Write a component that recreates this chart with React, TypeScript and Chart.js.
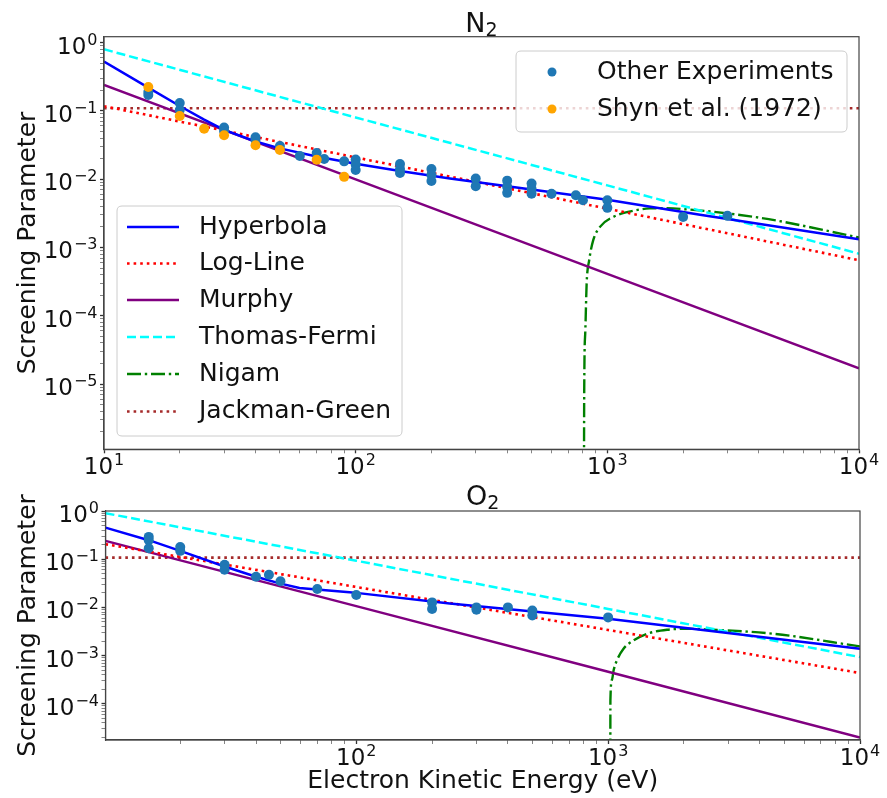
import React, { useEffect, useRef } from "react";
import { Chart, registerables } from "chart.js";
Chart.register(...registerables);

const FONT = "'DejaVu Sans', sans-serif";

// ---------------- N2 data ----------------
const n2OtherE = [15, 15, 20, 20, 30, 30, 40, 40, 50, 60, 70, 75, 90, 100, 100, 100, 150, 150, 150, 200, 200, 200, 300, 300, 400, 400, 400, 500, 500, 500, 600, 750, 800, 1000, 1000, 2000, 3000];
const n2OtherS = [0.188, 0.17, 0.13, 0.103, 0.057, 0.0506, 0.041, 0.0373, 0.0305, 0.0219, 0.0241, 0.0197, 0.0182, 0.0194, 0.0164, 0.0136, 0.0166, 0.0141, 0.0123, 0.0141, 0.0115, 0.0094, 0.0102, 0.0079, 0.0095, 0.0077, 0.0063, 0.0086, 0.0072, 0.0061, 0.0061, 0.0058, 0.0049, 0.0049, 0.0038, 0.0028, 0.0029];
const n2ShynE = [15, 20, 25, 30, 40, 50, 70, 90];
const n2ShynS = [0.223, 0.084, 0.0545, 0.0438, 0.0313, 0.0267, 0.0192, 0.0108];

const n2LineE = [10, 100, 1000, 10000];
const n2ThomasFermi = [0.795, 0.08, 0.0081, 0.00081];
const n2Murphy = [0.239, 0.0099, 0.00041, 0.000017];
const n2LogLine = [0.117, 0.0208, 0.0037, 0.00065];
const n2JackmanGreen = [0.109, 0.109, 0.109, 0.109];
const n2HypE = [10, 15, 20, 25, 30, 40, 50, 70, 100, 150, 237, 1000, 2335, 10000];
const n2HypS = [0.524, 0.219, 0.1175, 0.0741, 0.0525, 0.0355, 0.0282, 0.0214, 0.0168, 0.0132, 0.0102, 0.005, 0.003, 0.00132];
const n2NigamE = [806, 809, 817, 827.6, 847, 879, 935, 1056, 1268, 1476, 1650, 1824, 4036, 10000];
const n2NigamS = [1e-9, 5.8e-6, 5.6e-5, 3.0e-4, 6.5e-4, 1.28e-3, 2.0e-3, 2.8e-3, 3.44e-3, 3.73e-3, 3.76e-3, 3.73e-3, 2.72e-3, 1.4e-3];

// ---------------- O2 data ----------------
const o2OtherE = [15, 15, 15, 20, 20, 30, 30, 40, 45, 50, 70, 100, 200, 200, 300, 300, 400, 500, 500, 1000];
const o2OtherS = [0.29, 0.248, 0.169, 0.178, 0.149, 0.0766, 0.0604, 0.0433, 0.0476, 0.0349, 0.0241, 0.0181, 0.0127, 0.0093, 0.01, 0.0089, 0.01, 0.0086, 0.0068, 0.0062];

const o2LineE = [10.1, 100, 1000, 10000];
const o2ThomasFermi = [0.9, 0.093, 0.0093, 0.00093];
const o2Murphy = [0.24, 0.0106, 0.00046, 0.00002];
const o2LogLine = [0.205, 0.0265, 0.0034, 0.000435];
const o2JackmanGreen = [0.108, 0.108, 0.108, 0.108];
const o2HypE = [10.1, 15, 20, 29.4, 40, 49.6, 59.5, 73.6, 94, 100, 235, 1000, 10000];
const o2HypS = [0.452, 0.248, 0.149, 0.0731, 0.0433, 0.0315, 0.0253, 0.023, 0.0205, 0.02, 0.012, 0.00578, 0.00139];
const o2NigamE = [1019, 1021, 1035, 1051, 1084, 1151, 1262, 1426, 1714, 2061, 2472, 4550, 10000];
const o2NigamS = [1e-9, 1.19e-4, 3.1e-4, 4.9e-4, 8.0e-4, 1.39e-3, 2.06e-3, 2.83e-3, 3.43e-3, 3.6e-3, 3.48e-3, 2.83e-3, 1.55e-3];

// ---------------- styles ----------------
const STYLES = {
  hyperbola: { label: "Hyperbola", color: "#0000ff", dash: [] as number[], width: 2.5 },
  logline: { label: "Log-Line", color: "#ff0000", dash: [2.6, 4.0], width: 2.6 },
  murphy: { label: "Murphy", color: "#800080", dash: [] as number[], width: 2.5 },
  tf: { label: "Thomas-Fermi", color: "#00ffff", dash: [9, 4], width: 2.5 },
  nigam: { label: "Nigam", color: "#008000", dash: [14, 3.8, 2.4, 3.8], width: 2.4 },
  jg: { label: "Jackman-Green", color: "#a52a2a", dash: [2.6, 4.0], width: 2.6 },
};
const OTHER_COLOR = "#1f77b4";
const SHYN_COLOR = "#ffa500";
const TEXT_COLOR = "#111";

function isMajor(v: number) {
  const lg = Math.log10(v);
  return Math.abs(lg - Math.round(lg)) < 1e-6;
}
function logTicks(min: number, max: number) {
  const out: { value: number }[] = [];
  for (let e = -8; e <= 5; e++) {
    for (let m = 1; m <= 9; m++) {
      const v = m * Math.pow(10, e);
      if (v >= min * 0.9999 && v <= max * 1.0001) out.push({ value: v });
    }
  }
  return out;
}
function pts(xs: number[], ys: number[]) {
  return xs.map((x, i) => ({ x, y: ys[i] }));
}
function lineDs(st: any, xs: number[], ys: number[], mono = false) {
  return {
    label: st.label,
    data: pts(xs, ys),
    showLine: true,
    borderColor: st.color,
    backgroundColor: st.color,
    borderWidth: st.width,
    borderDash: st.dash,
    borderCapStyle: "butt",
    pointRadius: 0,
    cubicInterpolationMode: mono ? "monotone" : "default",
    order: 2,
  };
}
function dotDs(label: string, xs: number[], ys: number[], color: string) {
  return {
    label,
    data: pts(xs, ys),
    showLine: false,
    pointRadius: 5,
    pointBorderWidth: 0,
    pointBackgroundColor: color,
    backgroundColor: color,
    borderColor: color,
    order: 0,
  };
}

function roundRect(ctx: CanvasRenderingContext2D, x: number, y: number, w: number, h: number, r: number) {
  ctx.beginPath();
  ctx.moveTo(x + r, y);
  ctx.lineTo(x + w - r, y);
  ctx.quadraticCurveTo(x + w, y, x + w, y + r);
  ctx.lineTo(x + w, y + h - r);
  ctx.quadraticCurveTo(x + w, y + h, x + w - r, y + h);
  ctx.lineTo(x + r, y + h);
  ctx.quadraticCurveTo(x, y + h, x, y + h - r);
  ctx.lineTo(x, y + r);
  ctx.quadraticCurveTo(x, y, x + r, y);
  ctx.closePath();
}

// draws "10" with a raised exponent (mathtext-like)
function drawPow(ctx: CanvasRenderingContext2D, exp: number, x: number, baseline: number, align: "center" | "right") {
  const base = "10";
  const ex = exp < 0 ? "\u2212" + String(-exp) : String(exp);
  ctx.font = `23px ${FONT}`;
  const wb = ctx.measureText(base).width;
  ctx.font = `16px ${FONT}`;
  const we = ctx.measureText(ex).width;
  const total = wb + 1 + we;
  const x0 = align === "center" ? x - total / 2 : x - total;
  ctx.textAlign = "left";
  ctx.textBaseline = "alphabetic";
  ctx.fillStyle = TEXT_COLOR;
  ctx.font = `23px ${FONT}`;
  ctx.fillText(base, x0, baseline);
  ctx.font = `16px ${FONT}`;
  ctx.fillText(ex, x0 + wb + 1, baseline - 9);
}

function drawSubTitle(ctx: CanvasRenderingContext2D, main: string, sub: string, cx: number, baseline: number) {
  ctx.font = `27px ${FONT}`;
  const wm = ctx.measureText(main).width;
  ctx.font = `19px ${FONT}`;
  const ws = ctx.measureText(sub).width;
  const x0 = cx - (wm + ws) / 2;
  ctx.textAlign = "left";
  ctx.textBaseline = "alphabetic";
  ctx.fillStyle = TEXT_COLOR;
  ctx.font = `27px ${FONT}`;
  ctx.fillText(main, x0, baseline);
  ctx.font = `19px ${FONT}`;
  ctx.fillText(sub, x0 + wm, baseline + 3.5);
}

function framePlugin(titleMain: string, titleSub: string, titleBaseline: number, legends: boolean) {
  return {
    id: "frameAndLegends",
    afterDraw(chart: any) {
      const ctx: CanvasRenderingContext2D = chart.ctx;
      const a = chart.chartArea;
      ctx.save();
      ctx.strokeStyle = "#444";
      ctx.lineWidth = 1.2;
      ctx.setLineDash([]);
      ctx.strokeRect(a.left, a.top, a.right - a.left, a.bottom - a.top);

      // tick labels (powers of ten) placed by the chart's own scales
      const xs = chart.scales.x;
      const ys = chart.scales.y;
      xs.ticks.forEach((t: any) => {
        if (!isMajor(t.value)) return;
        const px = xs.getPixelForValue(t.value);
        drawPow(ctx, Math.round(Math.log10(t.value)), px, a.bottom + 25, "center");
      });
      ys.ticks.forEach((t: any) => {
        if (!isMajor(t.value)) return;
        const py = ys.getPixelForValue(t.value);
        drawPow(ctx, Math.round(Math.log10(t.value)), a.left - 6.5, py + 11, "right");
      });

      // title
      drawSubTitle(ctx, titleMain, titleSub, (a.left + a.right) / 2, titleBaseline);

      if (legends) {
        ctx.fillStyle = "rgba(255,255,255,0.8)";
        ctx.strokeStyle = "#cccccc";
        ctx.lineWidth = 1;
        roundRect(ctx, 117, 206, 285, 230, 5);
        ctx.fill();
        ctx.stroke();
        const entries = [STYLES.hyperbola, STYLES.logline, STYLES.murphy, STYLES.tf, STYLES.nigam, STYLES.jg];
        const rows = [227, 263.5, 300, 337, 374, 411.5];
        entries.forEach((st, i) => {
          ctx.strokeStyle = st.color;
          ctx.lineWidth = st.width;
          ctx.lineCap = "butt";
          ctx.setLineDash(st.dash);
          ctx.beginPath();
          ctx.moveTo(127, rows[i]);
          ctx.lineTo(179, rows[i]);
          ctx.stroke();
          ctx.setLineDash([]);
          ctx.fillStyle = TEXT_COLOR;
          ctx.font = `25px ${FONT}`;
          ctx.textAlign = "left";
          ctx.textBaseline = "middle";
          ctx.fillText(st.label, 199, rows[i]);
        });
        ctx.fillStyle = "rgba(255,255,255,0.8)";
        ctx.strokeStyle = "#cccccc";
        ctx.lineWidth = 1;
        roundRect(ctx, 516, 51, 331, 81, 5);
        ctx.fill();
        ctx.stroke();
        const mk = [
          { label: "Other Experiments", color: OTHER_COLOR, y: 72 },
          { label: "Shyn et al. (1972)", color: SHYN_COLOR, y: 109 },
        ];
        mk.forEach((m) => {
          ctx.fillStyle = m.color;
          ctx.beginPath();
          ctx.arc(552, m.y, 4.5, 0, Math.PI * 2);
          ctx.fill();
          ctx.fillStyle = TEXT_COLOR;
          ctx.font = `25px ${FONT}`;
          ctx.textAlign = "left";
          ctx.textBaseline = "middle";
          ctx.fillText(m.label, 597, m.y);
        });
      }
      ctx.restore();
    },
  };
}

function axisCommon() {
  return {
    type: "logarithmic" as const,
    afterBuildTicks: (s: any) => {
      s.ticks = logTicks(s.min, s.max);
    },
    grid: {
      drawOnChartArea: false,
      drawTicks: true,
      tickLength: 4,
      tickColor: (c: any) => (c.tick && isMajor(c.tick.value) ? "#333" : "#666"),
      tickWidth: (c: any) => (c.tick && isMajor(c.tick.value) ? 1.3 : 0.8),
    },
    border: { display: true, color: "#444", width: 1.2 },
  };
}

function makeConfig(opts: {
  datasets: any[];
  xmin: number;
  ymin: number;
  ymax: number;
  yWidth: number;
  xHeight: number;
  padTop: number;
  padRight: number;
  xTitle: boolean;
  titleMain: string;
  titleSub: string;
  titleBaseline: number;
  legends: boolean;
}) {
  return {
    type: "scatter" as const,
    data: { datasets: opts.datasets },
    options: {
      responsive: false,
      animation: false,
      maintainAspectRatio: false,
      layout: { padding: { left: 0, top: opts.padTop, right: opts.padRight, bottom: 0 } },
      plugins: { legend: { display: false }, tooltip: { enabled: false }, title: { display: false } },
      scales: {
        x: {
          ...axisCommon(),
          min: opts.xmin,
          max: 10000,
          afterFit: (s: any) => {
            s.height = opts.xHeight;
          },
          ticks: {
            autoSkip: false,
            maxRotation: 0,
            minRotation: 0,
            padding: 0,
            font: { family: FONT, size: 23 },
            callback: () => "",
          },
          title: {
            display: opts.xTitle,
            text: "Electron Kinetic Energy (eV)",
            color: TEXT_COLOR,
            font: { family: FONT, size: 25 },
            padding: { top: 0, bottom: 1.5 },
          },
        },
        y: {
          ...axisCommon(),
          min: opts.ymin,
          max: opts.ymax,
          afterFit: (s: any) => {
            s.width = opts.yWidth;
          },
          ticks: {
            autoSkip: false,
            padding: 2,
            font: { family: FONT, size: 23 },
            callback: () => "",
          },
          title: {
            display: true,
            text: "Screening Parameter",
            color: TEXT_COLOR,
            font: { family: FONT, size: 25 },
            padding: { top: 13.5, bottom: 0 },
          },
        },
      },
    },
    plugins: [framePlugin(opts.titleMain, opts.titleSub, opts.titleBaseline, opts.legends)],
  };
}

function Panel(props: { top: number; height: number; config: () => any }) {
  const ref = useRef<HTMLCanvasElement>(null);
  useEffect(() => {
    const chart = new Chart(ref.current as HTMLCanvasElement, props.config());
    return () => chart.destroy();
  }, []);
  return (
    <canvas
      ref={ref}
      width={887}
      height={props.height}
      style={{ position: "absolute", left: 0, top: props.top, width: 887, height: props.height, display: "block" }}
    />
  );
}

const topConfig = () =>
  makeConfig({
    datasets: [
      dotDs("Shyn et al. (1972)", n2ShynE, n2ShynS, SHYN_COLOR),
      dotDs("Other Experiments", n2OtherE, n2OtherS, OTHER_COLOR),
      lineDs(STYLES.hyperbola, n2HypE, n2HypS),
      lineDs(STYLES.logline, n2LineE, n2LogLine),
      lineDs(STYLES.murphy, n2LineE, n2Murphy),
      lineDs(STYLES.tf, n2LineE, n2ThomasFermi),
      lineDs(STYLES.nigam, n2NigamE, n2NigamS, true),
      lineDs(STYLES.jg, n2LineE, n2JackmanGreen),
    ],
    xmin: 10,
    ymin: 1.11e-6,
    ymax: 1.216,
    yWidth: 104,
    xHeight: 475 - 449.3,
    padTop: 36.7,
    padRight: 28,
    xTitle: false,
    titleMain: "N",
    titleSub: "2",
    titleBaseline: 32,
    legends: true,
  });

const bottomConfig = () =>
  makeConfig({
    datasets: [
      dotDs("Other Experiments", o2OtherE, o2OtherS, OTHER_COLOR),
      lineDs(STYLES.hyperbola, o2HypE, o2HypS),
      lineDs(STYLES.logline, o2LineE, o2LogLine),
      lineDs(STYLES.murphy, o2LineE, o2Murphy),
      lineDs(STYLES.tf, o2LineE, o2ThomasFermi),
      lineDs(STYLES.nigam, o2NigamE, o2NigamS, true),
      lineDs(STYLES.jg, o2LineE, o2JackmanGreen),
    ],
    xmin: 10.1,
    ymin: 1.77e-5,
    ymax: 1.0,
    yWidth: 105.5,
    xHeight: 323 - 265,
    padTop: 36,
    padRight: 27,
    xTitle: true,
    titleMain: "O",
    titleSub: "2",
    titleBaseline: 30,
    legends: false,
  });

export default function App() {
  return (
    <div style={{ position: "absolute", left: 0, top: 0, width: 887, height: 798, background: "#fff" }}>
      <Panel top={0} height={475} config={topConfig} />
      <Panel top={475} height={323} config={bottomConfig} />
    </div>
  );
}
